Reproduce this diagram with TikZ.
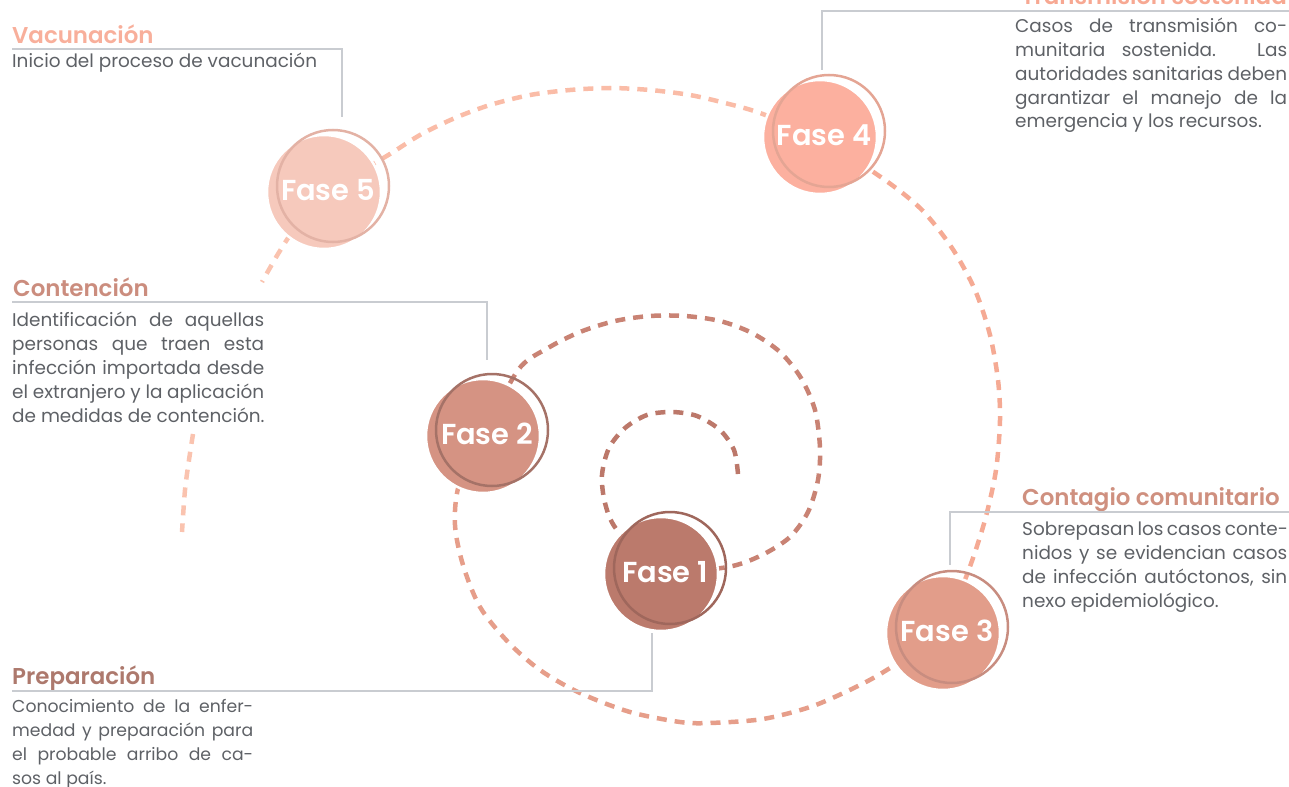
\documentclass[tikz,border=0pt]{standalone}
\usepackage{fontspec}
\setmainfont{Poppins}[BoldFont={Poppins SemiBold}]
\pgfdeclarelayer{background}
\pgfsetlayers{background,main}
\definecolor{bodygray}{HTML}{5E6166}
\definecolor{linegray}{HTML}{C9CCD1}
\definecolor{tVac}{HTML}{F8AF9B}
\definecolor{tTra}{HTML}{F7A892}
\definecolor{tCon}{HTML}{CB8D7E}
\definecolor{tCom}{HTML}{CF907F}
\definecolor{tPre}{HTML}{AD796D}
\definecolor{fA}{HTML}{BB7A6C}\definecolor{rA}{HTML}{9F675C}
\definecolor{fB}{HTML}{D59383}\definecolor{rB}{HTML}{A57267}
\definecolor{fC}{HTML}{E29D8A}\definecolor{rC}{HTML}{C88D80}
\definecolor{fD}{HTML}{FCB09F}\definecolor{rD}{HTML}{E4A594}
\definecolor{fE}{HTML}{F6C9BC}\definecolor{rE}{HTML}{E3B2A5}
\definecolor{sA}{HTML}{BC786A}
\definecolor{sB}{HTML}{C98374}
\definecolor{sC}{HTML}{E69E8A}
\definecolor{sD}{HTML}{F5AA94}
\definecolor{sE}{HTML}{FABCA7}
\definecolor{sF}{HTML}{FAC3AF}
\newcommand\jl[2]{\makebox[#1][s]{#2}}
\newcommand\fasedisk[6]{%
  \node[disk, fill=#4] (#1) at (#2,#3) {};
  \draw[ringline, draw=#5] ([xshift=9bp,yshift=6bp]#1.center) circle[radius=56bp];
  \node[fasetext] (#1t) at ([xshift=4bp,yshift=2bp]#1.center) {#6};
}
\begin{document}
\begin{tikzpicture}[x=1bp,y=-1bp,
  leader/.style={draw=linegray, line width=1.2bp},
  spiral/.style={line width=4.5bp, dash pattern=on 10bp off 8bp},
  title/.style={anchor=base west, inner sep=0pt, font=\fontsize{23}{28}\selectfont\bfseries},
  body/.style={anchor=base west, inner sep=0pt, text=bodygray, font=\fontsize{18.5}{24}\selectfont, align=left},
  disk/.style={circle, minimum size=114bp, inner sep=0pt, draw=white, line width=2.5bp},
  ringline/.style={line width=2.5bp},
  fasetext/.style={text=white, inner sep=0pt, font=\fontsize{29}{32}\selectfont\bfseries}
]
\useasboundingbox (0,0) rectangle (1289,787);

% phase circles
\fasedisk{f1}{661}{574}{fA}{rA}{Fase 1}
\fasedisk{f2}{483}{436}{fB}{rB}{Fase 2}
\fasedisk{f3}{943}{633}{fC}{rC}{Fase 3}
\fasedisk{f4}{820}{137}{fD}{rD}{Fase 4}
\fasedisk{f5}{324}{192}{fE}{rE}{Fase 5}

% spiral
\coordinate (sp0) at (738,474);
\coordinate (sp5a) at (262,282);
\coordinate (sp5b) at (193,434);
\coordinate (sp5c) at (182,532);
\begin{pgfonlayer}{background}
\draw[spiral, draw=sA] plot[smooth] coordinates {(sp0) (734,450) (720,430) (697,416) (672,412) (647,415) (625,428) (609,448) (602,475) (605,503) (617,530) (f1.center)};
\draw[spiral, draw=sB] plot[smooth] coordinates {(f1.center) (728,567) (762,555) (790,537) (808,512) (818,480) (820,448) (815,410) (801,378) (780,352) (752,333) (720,321) (685,316) (650,316) (615,321) (580,332) (548,348) (518,370) (f2.center)};
\draw[spiral, draw=sC] plot[smooth] coordinates {(f2.center) (459,485) (455,525) (463,565) (480,607) (508,642) (540,670) (580,693) (630,712) (680,722) (710,723) (763,719) (813,706) (860,685) (890,668) (f3.center)};
\draw[spiral, draw=sD] plot[smooth] coordinates {(f3.center) (968,572) (985,520) (996,470) (1000,420) (998,380) (990,335) (975,290) (952,248) (922,210) (885,180) (f4.center)};
\draw[spiral, draw=sE] plot[smooth] coordinates {(f4.center) (760,113) (725,103) (690,95) (650,90) (610,88) (570,90) (530,95) (490,105) (455,118) (420,135) (385,157) (f5.center)};
\draw[spiral, draw=sF] plot[smooth] coordinates {(f5.center) (295,228) (278,254) (sp5a)};
\draw[spiral, draw=sF] plot[smooth] coordinates {(sp5b) (189,460) (185,490) (sp5c)};
\end{pgfonlayer}

% Vacunacion
\node[title, text=tVac] (vac) at (12,44) {Vacunación};
\node[body] (vacb) at (12,68) {Inicio del proceso de vacunación};
\coordinate (vacL) at (12,49);
\coordinate (vacE) at (342,117);
\draw[leader] (vacL) -| (vacE);

% Transmision sostenida (anchor = baseline of last line)
\node[title, text=tTra, anchor=base east] (tra) at (1287,5) {Transmisión sostenida};
\node[body] (trab) at (1015,128) {\jl{272bp}{Casos de transmisión co-}\\
\jl{272bp}{munitaria sostenida. Las}\\
\jl{272bp}{autoridades sanitarias deben}\\
\jl{272bp}{garantizar el manejo de la}\\
emergencia y los recursos.};
\coordinate (traL) at (1289,11);
\coordinate (traE) at (822,70);
\draw[leader] (traL) -| (traE);

% Contencion
\node[title, text=tCon] (con) at (13,296) {Contención};
\node[body] (conb) at (12,422) {\jl{252bp}{Identificación de aquellas}\\
\jl{252bp}{personas que traen esta}\\
\jl{252bp}{infección importada desde}\\
\jl{252bp}{el extranjero y la aplicación}\\
de medidas de contención.};
\coordinate (conL) at (12,302);
\coordinate (conE) at (487,360);
\draw[leader] (conL) -| (conE);

% Contagio comunitario
\node[title, text=tCom] (com) at (1022,505) {Contagio comunitario};
\node[body] (comb) at (1022,607) {\jl{265bp}{Sobrepasan los casos conte-}\\
\jl{265bp}{nidos y se evidencian casos}\\
\jl{265bp}{de infección autóctonos, sin}\\
nexo epidemiológico.};
\coordinate (comL) at (1289,512);
\coordinate (comE) at (950,565);
\draw[leader] (comL) -| (comE);

% Preparacion
\node[title, text=tPre] (pre) at (12,684) {Preparación};
\node[body, font=\fontsize{17.3}{24}\selectfont] (preb) at (12,784) {\jl{241bp}{Conocimiento de la enfer-}\\
\jl{241bp}{medad y preparación para}\\
\jl{241bp}{el probable arribo de ca-}\\
sos al país.};
\coordinate (preL) at (12,691);
\coordinate (preE) at (652,633);
\draw[leader] (preL) -| (preE);
\end{tikzpicture}
\end{document}
